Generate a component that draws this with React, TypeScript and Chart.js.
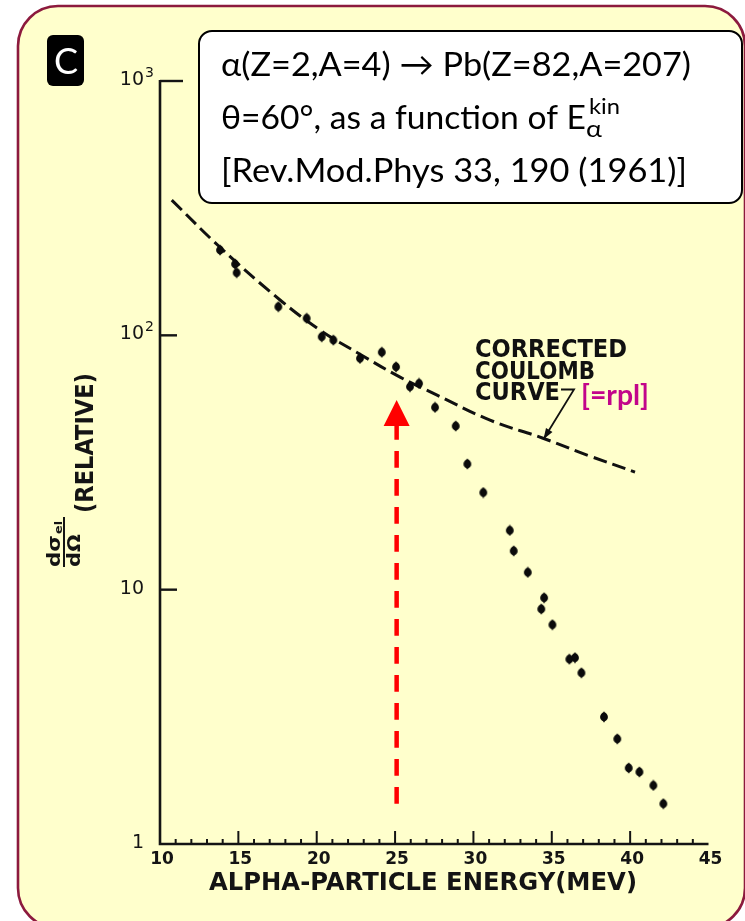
import React, { useEffect, useRef } from "react";
import { Chart, registerables } from "chart.js";

Chart.register(...registerables);

// Measured elastic cross-section (relative) vs alpha-particle energy, Pb target at 60 degrees
const energyMeV = [
  13.83, 14.79, 14.89, 17.55, 19.36, 20.32, 21.06, 22.76, 24.15, 25.06, 25.95,
  26.53, 27.55, 28.87, 29.61, 30.63, 32.32, 32.57, 33.47, 34.51, 34.33, 35.04,
  36.12, 36.48, 36.89, 38.33, 39.18, 39.91, 40.59, 41.48, 42.12,
];
const crossSection = [
  216.5, 190.7, 176.3, 129.6, 116.7, 98.7, 95.8, 81.2, 85.8, 75.2, 62.8,
  64.7, 52.1, 44.0, 31.2, 24.1, 17.1, 14.2, 11.7, 9.29, 8.39, 7.28,
  5.33, 5.4, 4.71, 3.16, 2.59, 1.99, 1.92, 1.7, 1.44,
];

// Corrected Coulomb (Rutherford) curve
const coulombEnergy = [10.75, 13.83, 17.66, 20.21, 22.76, 25.32, 27.68, 31.06, 34.44, 37.44, 40.31];
const coulombSigma = [340, 222, 137.7, 104.9, 84.3, 68.5, 58.2, 46.4, 39.4, 33.5, 29.0];

// Axis ticks
const xLabelValues = [10, 15, 20, 25, 30, 35, 40, 45];
const xTickLabels = ["10", "15", "20", "25", "30", "35", "40", "45"];
const yLabelValues = [1, 10, 100, 1000];
const yTickLabels = ["1", "10", "10", "10"];
const yTickExponents = ["", "", "2", "3"];

// Red marker arrow at the onset of the deviation
const markerEnergy = 25.1;
const markerTop = 55.7;
const markerBottom = 1.44;

// Where the curve label's pointer touches the curve
const pointerEnergy = 34.47;
const pointerSigma = 39.0;

const SANS = "'DejaVu Sans', sans-serif";
const BOX = "Lato, 'Open Sans', sans-serif";

function fitText(
  ctx: CanvasRenderingContext2D,
  text: string,
  x: number,
  y: number,
  width: number,
  align: "left" | "center" | "right" = "left"
) {
  const w = ctx.measureText(text).width;
  const s = width / w;
  ctx.save();
  ctx.translate(x, y);
  ctx.scale(s, 1);
  ctx.textAlign = "left";
  const x0 = align === "center" ? -w / 2 : align === "right" ? -w : 0;
  ctx.fillText(text, x0, 0);
  ctx.restore();
}

function makeDot(): HTMLCanvasElement {
  const c = document.createElement("canvas");
  c.width = 10;
  c.height = 12;
  const g = c.getContext("2d")!;
  g.fillStyle = "#0b0b0b";
  g.beginPath();
  g.ellipse(5, 6, 3.9, 4.4, 0, 0, Math.PI * 2);
  g.fill();
  g.beginPath();
  g.moveTo(5, 0.3);
  g.lineTo(8.4, 6);
  g.lineTo(5, 11.7);
  g.lineTo(1.6, 6);
  g.closePath();
  g.fill();
  return c;
}

const paperPlugin = {
  id: "paper",
  beforeDraw(chart: any) {
    const ctx: CanvasRenderingContext2D = chart.ctx;
    const xs = chart.scales.x;
    const ys = chart.scales.y;
    ctx.save();
    ctx.fillStyle = "#ffffff";
    ctx.fillRect(0, 0, chart.width, chart.height);

    // yellow panel with maroon frame
    ctx.beginPath();
    (ctx as any).roundRect(18, 6, 727, 922, 40);
    ctx.fillStyle = "#FFFFCC";
    ctx.fill();
    ctx.lineWidth = 2.6;
    ctx.strokeStyle = "#8C1A3E";
    ctx.stroke();

    // panel letter
    ctx.beginPath();
    (ctx as any).roundRect(47, 35, 37, 51, 6);
    ctx.fillStyle = "#000000";
    ctx.fill();
    ctx.fillStyle = "#ffffff";
    ctx.font = `36px ${BOX}`;
    ctx.textAlign = "center";
    ctx.textBaseline = "alphabetic";
    ctx.fillText("C", 66, 74);

    // axes
    const x0 = xs.getPixelForValue(10);
    const x1 = xs.getPixelForValue(45);
    const yTop = ys.getPixelForValue(1000);
    const yBase = ys.getPixelForValue(1);
    ctx.strokeStyle = "#141414";
    ctx.lineWidth = 2.6;
    ctx.lineCap = "butt";
    ctx.beginPath();
    ctx.moveTo(x0, yTop - 1);
    ctx.lineTo(x0, yBase);
    ctx.lineTo(x1, yBase);
    ctx.stroke();

    // x ticks pointing up
    ctx.lineWidth = 2;
    for (let v = 11; v < 45; v++) {
      const px = xs.getPixelForValue(v);
      const len = v % 5 === 0 ? 13 : 5;
      ctx.beginPath();
      ctx.moveTo(px, yBase);
      ctx.lineTo(px, yBase - len);
      ctx.stroke();
    }

    // y ticks pointing right
    ctx.lineWidth = 2.4;
    yLabelValues.forEach((v) => {
      if (v === 1) return;
      const py = ys.getPixelForValue(v);
      ctx.beginPath();
      ctx.moveTo(x0, py);
      ctx.lineTo(x0 + (v === 1000 ? 23 : 17), py);
      ctx.stroke();
    });

    // y tick labels
    ctx.fillStyle = "#141414";
    yLabelValues.forEach((v, i) => {
      const py = ys.getPixelForValue(v);
      ctx.font = `19px ${SANS}`;
      ctx.textAlign = "right";
      ctx.textBaseline = "middle";
      ctx.fillText(yTickLabels[i], 144, py - 1);
      if (yTickExponents[i]) {
        ctx.font = `14px ${SANS}`;
        ctx.textAlign = "left";
        ctx.textBaseline = "alphabetic";
        ctx.fillText(yTickExponents[i], 145, py - 4);
      }
    });

    // x tick labels
    ctx.font = `bold 17px ${SANS}`;
    ctx.textAlign = "center";
    ctx.textBaseline = "alphabetic";
    xLabelValues.forEach((v, i) => {
      const px = xs.getPixelForValue(v);
      ctx.fillText(xTickLabels[i], px + 2, 864);
    });

    // x axis title
    ctx.font = `bold 25px ${SANS}`;
    fitText(ctx, "ALPHA-PARTICLE ENERGY(MEV)", 209, 890, 428);

    // y axis title (rotated)
    ctx.save();
    ctx.translate(93, 443);
    ctx.rotate(-Math.PI / 2);
    ctx.font = `bold 24px ${SANS}`;
    fitText(ctx, "(RELATIVE)", 0, 0, 140, "center");
    ctx.restore();

    // d sigma_el / d Omega
    ctx.save();
    ctx.translate(64, 567);
    ctx.rotate(-Math.PI / 2);
    ctx.lineWidth = 2;
    ctx.beginPath();
    ctx.moveTo(0, 0);
    ctx.lineTo(50, 0);
    ctx.stroke();
    ctx.font = `bold 18px ${SANS}`;
    fitText(ctx, "d\u03C3", 0, -4.5, 32);
    ctx.font = `bold 11px ${SANS}`;
    fitText(ctx, "el", 33, -2, 13);
    ctx.font = `bold 17px ${SANS}`;
    fitText(ctx, "d\u03A9", 0, 15.5, 33);
    ctx.restore();

    ctx.restore();
  },
  afterDatasetsDraw(chart: any) {
    const ctx: CanvasRenderingContext2D = chart.ctx;
    const xs = chart.scales.x;
    const ys = chart.scales.y;
    ctx.save();

    // red dashed arrow
    const ax = xs.getPixelForValue(markerEnergy);
    const aTop = ys.getPixelForValue(markerTop);
    const aBot = ys.getPixelForValue(markerBottom);
    const headLen = 26;
    ctx.strokeStyle = "#FF0000";
    ctx.fillStyle = "#FF0000";
    ctx.lineWidth = 4.5;
    ctx.setLineDash([16.7, 11.3]);
    ctx.beginPath();
    ctx.moveTo(ax, aBot);
    ctx.lineTo(ax, aTop + headLen);
    ctx.stroke();
    ctx.setLineDash([]);
    ctx.beginPath();
    ctx.moveTo(ax, aTop);
    ctx.lineTo(ax + 13, aTop + headLen);
    ctx.lineTo(ax - 13, aTop + headLen);
    ctx.closePath();
    ctx.fill();

    // curve label
    ctx.fillStyle = "#111111";
    ctx.font = `bold 24px ${SANS}`;
    ctx.textBaseline = "alphabetic";
    fitText(ctx, "CORRECTED", 475, 357, 152);
    fitText(ctx, "COULOMB", 475, 378.5, 120);
    fitText(ctx, "CURVE", 475, 400, 85);

    // pointer from label to curve
    const tx = xs.getPixelForValue(pointerEnergy);
    const ty = ys.getPixelForValue(pointerSigma);
    const sx = 574;
    const sy = 389.5;
    ctx.strokeStyle = "#111111";
    ctx.lineWidth = 1.8;
    ctx.beginPath();
    ctx.moveTo(561, sy);
    ctx.lineTo(sx, sy);
    ctx.lineTo(tx, ty);
    ctx.stroke();
    const ang = Math.atan2(ty - sy, tx - sx);
    ctx.beginPath();
    ctx.moveTo(tx, ty);
    ctx.lineTo(tx - 11 * Math.cos(ang) + 3.8 * Math.sin(ang), ty - 11 * Math.sin(ang) - 3.8 * Math.cos(ang));
    ctx.lineTo(tx - 11 * Math.cos(ang) - 3.8 * Math.sin(ang), ty - 11 * Math.sin(ang) + 3.8 * Math.cos(ang));
    ctx.closePath();
    ctx.fill();

    ctx.fillStyle = "#C2058A";
    ctx.font = `bold 29px ${BOX}`;
    fitText(ctx, "[=rpl]", 581, 405, 68);

    // info box
    ctx.beginPath();
    (ctx as any).roundRect(199, 31, 543, 172, 13);
    ctx.fillStyle = "#ffffff";
    ctx.fill();
    ctx.lineWidth = 2;
    ctx.strokeStyle = "#000000";
    ctx.stroke();
    ctx.fillStyle = "#000000";
    ctx.font = `33px ${BOX}`;
    fitText(ctx, "\u03B1(Z=2,A=4) \u2192 Pb(Z=82,A=207)", 221, 76, 470);
    fitText(ctx, "\u03B8=60\u00B0, as a function of E", 221, 129, 365);
    fitText(ctx, "[Rev.Mod.Phys 33, 190 (1961)]", 221, 182, 466);
    ctx.font = `22px ${BOX}`;
    fitText(ctx, "kin", 589, 114, 31);
    ctx.font = `24px ${BOX}`;
    fitText(ctx, "\u03B1", 586, 137, 16);

    ctx.restore();
  },
};

export default function App() {
  const canvasRef = useRef<HTMLCanvasElement | null>(null);

  useEffect(() => {
    const canvas = canvasRef.current;
    if (!canvas) return;
    const dot = makeDot();
    const points = energyMeV.map((e, i) => ({ x: e, y: crossSection[i] }));
    const curve = coulombEnergy.map((e, i) => ({ x: e, y: coulombSigma[i] }));

    const chart = new Chart(canvas, {
      type: "scatter",
      data: {
        datasets: [
          {
            type: "scatter",
            data: points,
            pointStyle: dot as any,
            pointRadius: 5,
            order: 0,
          },
          {
            type: "line",
            data: curve,
            borderColor: "#111111",
            borderWidth: 3,
            borderDash: [14, 6],
            pointRadius: 0,
            fill: false,
            tension: 0.4,
            order: 1,
          } as any,
        ],
      },
      options: {
        responsive: false,
        animation: false,
        devicePixelRatio: 1,
        events: [],
        layout: { padding: { left: 160, right: 36.5, top: 81, bottom: 77 } },
        scales: {
          x: { type: "linear", min: 10, max: 45, display: false },
          y: { type: "logarithmic", min: 1, max: 1000, display: false },
        },
        plugins: {
          legend: { display: false },
          tooltip: { enabled: false },
        },
      },
      plugins: [paperPlugin],
    });
    return () => chart.destroy();
  }, []);

  return (
    <div style={{ position: "absolute", left: 0, top: 0, width: 745, height: 921 }}>
      <canvas ref={canvasRef} width={745} height={921} style={{ display: "block" }} />
    </div>
  );
}
